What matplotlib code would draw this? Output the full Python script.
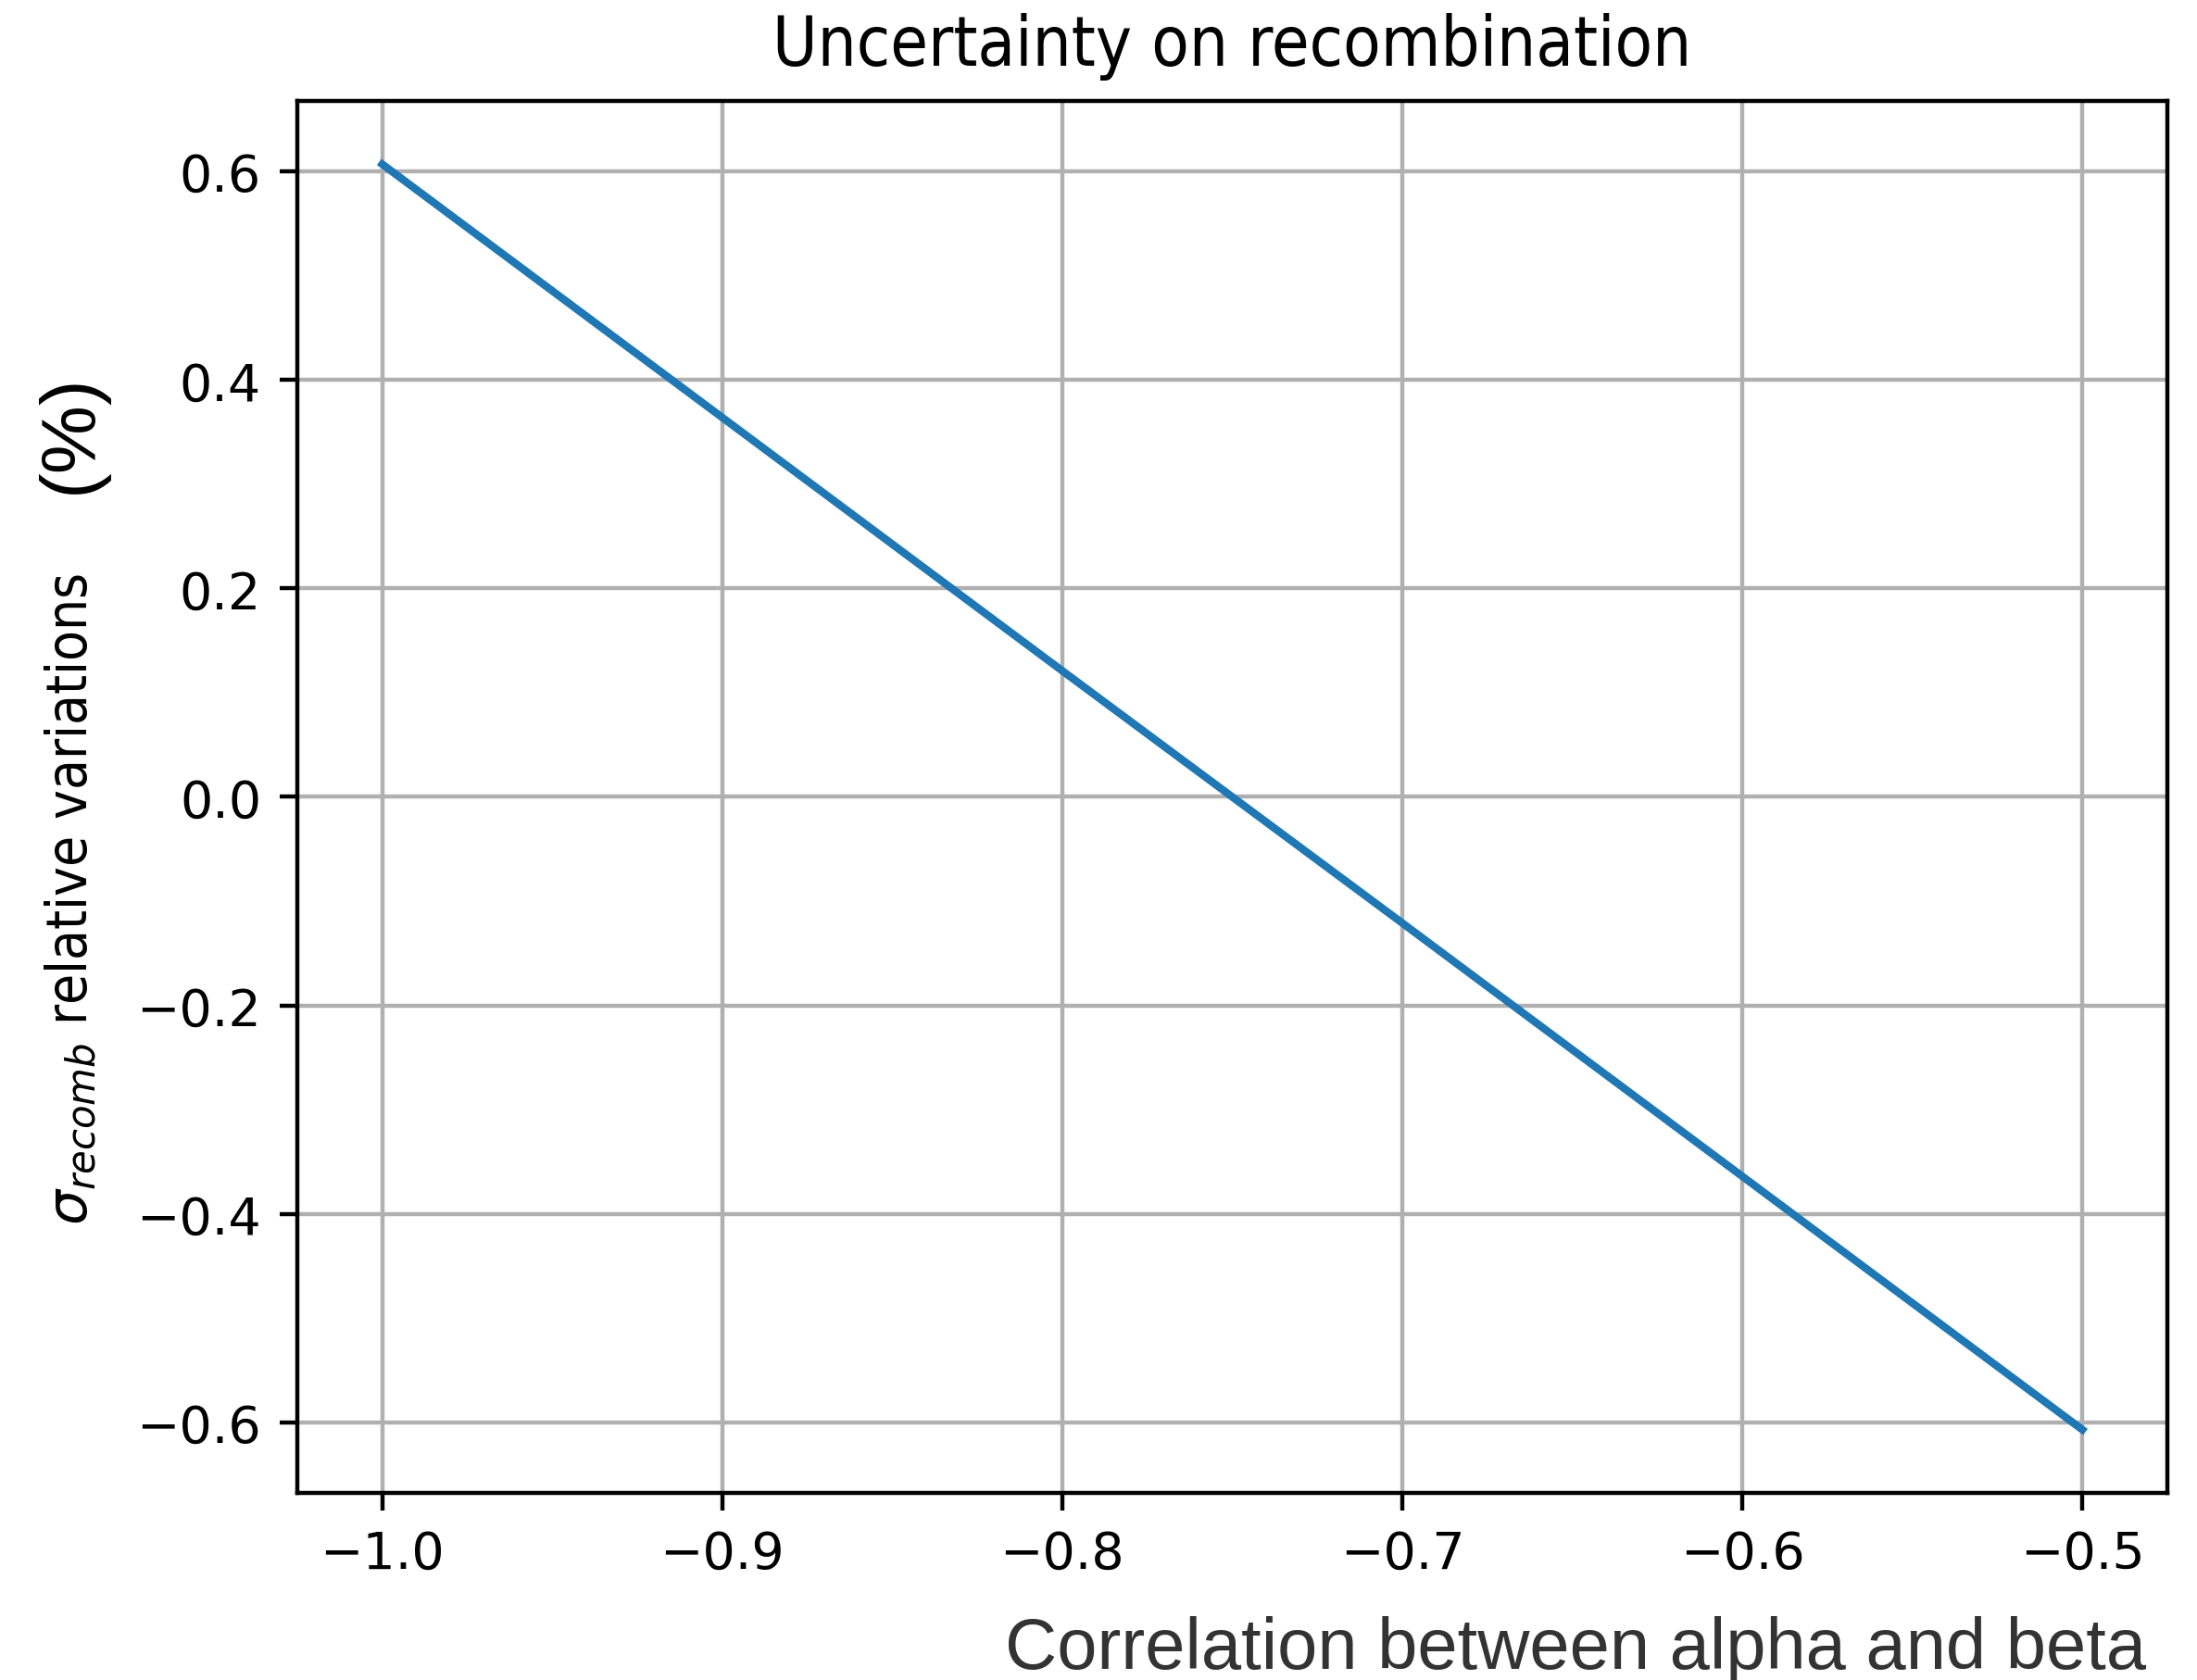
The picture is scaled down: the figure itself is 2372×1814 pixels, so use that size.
import numpy as np
import matplotlib.pyplot as plt

# correlation between alpha and beta vs relative variation of sigma_recomb (%)
correlation = [-1.0, -0.9, -0.8, -0.7, -0.6, -0.5]
sigma_var = [0.607, 0.364, 0.121, -0.121, -0.364, -0.607]

yticks = [-0.6, -0.4, -0.2, 0.0, 0.2, 0.4, 0.6]
xticks = [-1.0, -0.9, -0.8, -0.7, -0.6, -0.5]

fig = plt.figure(figsize=(5.93, 4.5375), dpi=400)
ax = fig.add_axes([0.1353, 0.1113, 0.8512, 0.8281])

ax.plot(correlation, sigma_var, color='#1f77b4', lw=1.5)
ax.set_xticks(xticks)
ax.set_yticks(yticks)
ax.grid(True)
ax.set_title('Uncertainty on recombination', fontsize=13.3,
             fontstretch='condensed', pad=7)

# y label sits lower than the axes centre; "(%)" was added on top in another font
fig.text(0.0400, 0.465, r'$\sigma_{recomb}$ relative variations', rotation=90,
         rotation_mode='anchor', ha='center', va='baseline',
         fontsize=10.8, fontstretch='condensed')
fig.text(0.0325, 0.742, '(%)', rotation=90, ha='center', va='center',
         fontsize=15, family='Liberation Sans', color='black')
fig.text(0.9768, 0.0072, 'Correlation between alpha and beta', ha='right', va='baseline',
         fontsize=14, family='Liberation Sans', color='#333333')

fig.savefig('out.png', dpi=400)
